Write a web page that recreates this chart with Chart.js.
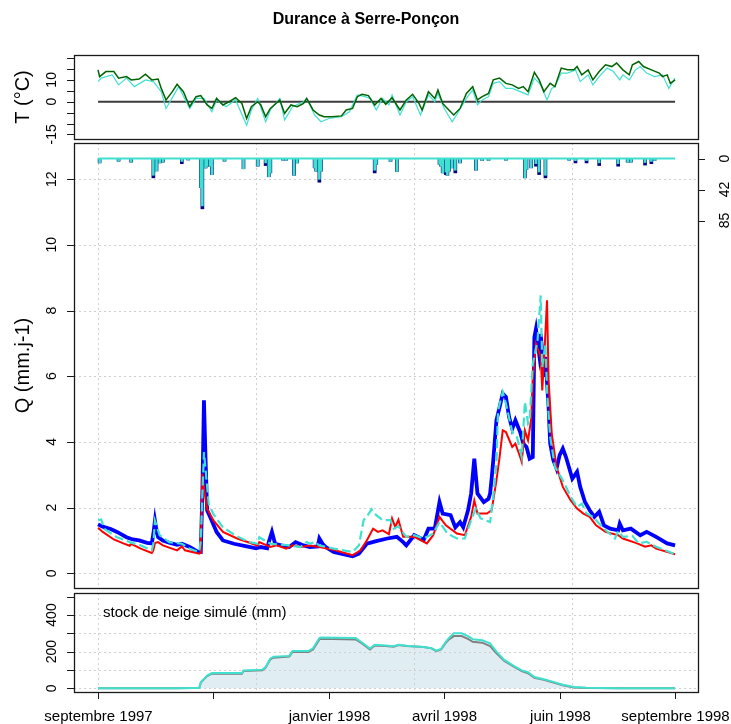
<!DOCTYPE html>
<html><head><meta charset="utf-8">
<script src="https://cdn.jsdelivr.net/npm/chart.js@4.4.1/dist/chart.umd.min.js"></script>
<style>
html,body{margin:0;padding:0;background:#fff;}
#wrap{position:relative;width:731px;height:724px;overflow:hidden;background:#fff;}
canvas{position:absolute;left:0;top:0;}
</style></head><body>
<div id="wrap">
<canvas id="cT" width="731" height="724"></canvas>
<canvas id="cQ" width="731" height="724"></canvas>
<canvas id="cS" width="731" height="724"></canvas>
</div>
<script>
// ---------- DATA (x = days since 1 septembre 1997) ----------
const chartTitle = "Durance à Serre-Ponçon";
const dateTickDays = [0, 73, 146, 219, 292, 365];
const dateTickLabels = ["septembre 1997", "", "janvier 1998", "avril 1998", "juin 1998", "septembre 1998"];
const gridDays = [0, 100, 200, 300];

const tempTicks = [-15, -10, -5, 0, 5, 10, 15, 20];
const tempLabels = [10, 0, -15];
const qTicks = [0, 2, 4, 6, 8, 10, 12];
const precipTicks = [0, 42.5, 85];
const precipLabels = ["0", "42", "85"];
const snowTicks = [0, 100, 200, 300, 400, 500];
const snowLabels = [0, 200, 400];
const snowGrid = [0, 100, 200, 300, 400];

// Temperature (°C)
const tempObserved = [[0,14.6],[1,11.5],[5,13.8],[10,13.8],[13,10.8],[18,11.5],[21,10],[26,10.4],[30,12.6],[34,10],[38,10.4],[40,6.1],[43,0.8],[47,4.6],[50,8],[54,4.6],[58,-2.3],[62,2.3],[65,2.8],[69,-1.5],[72,-3.1],[75,1.5],[79,-1.5],[83,0],[87,1.8],[91,-0.8],[94,-7.7],[97,-2.3],[101,0],[103,-1.5],[106,-6.9],[109,-3.1],[115,0.8],[118,-5.4],[122,-1.5],[126,-2.3],[130,-0.8],[132,1.5],[136,-3.8],[140,-6.1],[143,-6.9],[148,-6.9],[154,-6.5],[157,-3.8],[161,-3.1],[164,2.3],[167,3.4],[171,2.8],[175,-1.5],[179,1.5],[182,-1.2],[186,1.8],[191,-3.8],[195,0.8],[199,3.4],[203,-0.8],[205,-3.8],[209,4.6],[213,1.5],[215,5.4],[218,-0.8],[221,-3.1],[225,-6.1],[229,-3.1],[233,3.8],[237,6.9],[240,0.8],[243,2.3],[247,3.8],[250,10],[254,10.8],[258,8.4],[262,7.7],[266,6.1],[269,6.9],[272,4.6],[276,13.5],[279,10],[282,4.6],[286,8.4],[289,6.9],[293,15.4],[297,14.6],[301,14.6],[303,16.1],[306,12.3],[310,14.6],[313,10],[317,13.8],[321,16.9],[325,16.1],[328,17.7],[332,14.6],[336,12.3],[338,16.9],[342,18.4],[345,16.1],[350,14.6],[355,13.1],[357,11.5],[360,12.3],[362,8.4],[365,10]];
const tempModel = [[0,9.2],[2,10.8],[9,12.3],[13,7.7],[18,10.8],[23,6.9],[30,10],[35,9.2],[40,4.6],[43,-3.1],[48,3.1],[51,6.9],[58,-3.1],[62,1.5],[67,1.5],[72,-4.6],[75,0.8],[81,-2.3],[87,0.8],[94,-10.8],[97,-3.8],[101,1.5],[106,-9.2],[109,-3.8],[115,1.5],[118,-8.4],[123,-2.3],[130,0],[132,1.5],[137,-6.1],[141,-9.2],[146,-7.7],[154,-6.9],[159,-4.6],[164,3.1],[169,2.3],[172,1.5],[176,-3.8],[180,1.5],[184,-1.5],[186,3.1],[191,-6.1],[195,0],[199,2.3],[204,-6.1],[209,3.1],[213,0],[215,3.8],[219,-3.1],[224,-9.2],[228,-4.6],[233,1.5],[237,5.4],[240,-1.5],[243,0.8],[247,2.3],[250,8.4],[254,9.2],[258,6.1],[262,6.1],[267,4.6],[272,3.1],[276,10.8],[280,7.7],[284,0.8],[287,6.1],[289,6.9],[293,13.1],[297,13.1],[302,14.6],[305,9.2],[310,12.3],[313,7.7],[317,11.5],[322,15.4],[326,13.8],[330,10],[332,12.3],[336,10],[340,14.6],[343,16.1],[347,13.1],[352,11.5],[357,12.3],[361,6.1],[365,10.8]];
const tempZero = [[0,0],[365,0]];

// Discharge Q (mm/j)
const qObserved = [[0,1.49],[3,1.42],[8,1.35],[12,1.26],[18,1.1],[22,1.03],[26,1.0],[31,0.93],[34,0.91],[35,1.2],[36,1.6],[37,1.3],[38,1.1],[41,1.0],[45,0.93],[50,0.87],[53,0.9],[58,0.8],[63,0.66],[65,0.65],[66,2.5],[67,5.27],[68,3.5],[69,1.92],[71,1.71],[75,1.26],[79,1.0],[86,0.9],[94,0.82],[100,0.76],[103,0.8],[107,0.76],[108,0.95],[110,1.26],[112,0.9],[116,0.85],[121,0.8],[125,0.95],[130,0.85],[134,0.8],[139,0.82],[140,1.06],[142,0.9],[144,0.8],[149,0.65],[155,0.58],[161,0.52],[165,0.6],[170,0.9],[176,0.98],[183,1.06],[189,1.11],[193,0.95],[195,0.85],[200,1.16],[206,1.02],[209,1.36],[213,1.36],[216,2.17],[218,1.82],[223,1.77],[226,1.4],[229,1.56],[231,1.4],[234,1.91],[236,2.43],[238,3.49],[240,2.43],[244,2.17],[247,2.27],[248,2.43],[249,2.9],[250,3.44],[252,4.66],[254,5.06],[256,5.47],[258,5.37],[260,4.76],[262,4.4],[264,4.66],[267,4.3],[269,3.95],[271,3.85],[273,3.49],[275,3.54],[276,7.19],[277,7.44],[279,6.69],[280,7.29],[281,6.7],[282,5.98],[283,6.59],[285,5.06],[286,3.95],[288,3.44],[290,3.19],[292,3.6],[294,3.8],[296,3.54],[300,2.88],[303,3.09],[305,2.63],[308,2.17],[311,1.92],[314,1.72],[317,1.87],[320,1.46],[324,1.36],[329,1.31],[330,1.51],[332,1.31],[337,1.36],[343,1.16],[347,1.26],[353,1.11],[360,0.91],[365,0.85]];
const qSimRed = [[0,1.39],[3,1.26],[10,1.03],[16,0.91],[20,0.84],[21,0.9],[27,0.75],[34,0.62],[35,0.7],[36,0.92],[38,0.95],[41,0.85],[50,0.7],[53,0.82],[55,0.7],[64,0.6],[65,0.62],[66,3.03],[67,2.6],[69,1.97],[73,1.61],[79,1.26],[88,1.06],[96,0.93],[101,0.84],[102,0.95],[109,0.8],[113,0.85],[119,0.75],[123,0.85],[128,0.8],[134,0.85],[140,0.8],[149,0.72],[161,0.55],[166,0.7],[170,1.0],[174,1.36],[177,1.26],[180,1.31],[184,1.19],[186,1.67],[188,1.41],[190,1.63],[193,1.11],[200,1.11],[208,0.91],[212,1.16],[216,1.72],[220,1.46],[227,1.21],[232,1.16],[236,1.72],[238,2.22],[240,1.82],[246,1.82],[249,1.92],[252,2.83],[254,3.54],[256,4.35],[258,4.3],[262,3.85],[264,3.95],[267,3.54],[268,3.39],[270,4.35],[272,4.05],[274,4.71],[275,5.88],[277,6.99],[280,6.59],[281,5.57],[282,6.38],[284,8.31],[285,5.88],[287,4.25],[290,3.24],[294,2.63],[299,2.22],[303,1.97],[307,1.82],[311,1.72],[315,1.46],[321,1.26],[329,1.16],[332,1.06],[341,0.91],[346,0.81],[350,0.85],[353,0.75],[365,0.58]];
const qSimCyan = [[0,1.62],[2,1.64],[4,1.35],[12,1.1],[20,0.95],[27,0.85],[34,0.7],[35,0.9],[36,1.6],[39,1.16],[45,0.95],[53,0.9],[58,0.75],[64,0.65],[65,1.0],[67,3.69],[70,2.12],[73,1.8],[79,1.4],[88,1.12],[96,0.95],[101,0.9],[102,1.1],[109,0.9],[121,0.85],[128,0.8],[132,0.95],[134,0.9],[137,0.95],[140,0.85],[149,0.75],[161,0.65],[165,0.85],[168,1.62],[170,1.72],[173,1.95],[176,1.77],[180,1.62],[185,1.62],[187,1.36],[190,1.43],[195,1.11],[200,1.16],[206,1.06],[212,1.21],[216,1.56],[221,1.21],[227,1.06],[232,1.06],[236,1.62],[239,1.97],[242,1.67],[248,1.56],[250,2.33],[252,3.33],[253,4.96],[256,5.52],[258,5.17],[262,4.3],[265,4.15],[268,3.54],[270,5.22],[272,4.56],[273,4.66],[275,6.38],[278,7.09],[280,8.46],[281,6.28],[283,6.99],[284,5.57],[286,4.15],[289,3.24],[294,2.83],[299,2.33],[303,2.02],[306,2.12],[309,1.82],[313,1.72],[320,1.36],[327,1.06],[329,1.29],[332,1.11],[338,1.14],[342,0.91],[347,0.96],[353,0.81],[365,0.58]];

// Precipitation (mm/j): total and liquid part
const precipDays  = [1,13,21,35,37,39,41,53,57,65,66,68,69,71,72,80,92,101,106,108,109,117,119,124,126,137,138,140,141,175,176,185,189,216,217,218,220,221,222,224,226,229,239,243,247,258,270,271,274,277,279,283,298,302,309,317,329,335,337,346,350,352];
const precipTotal = [6,3.7,5,26.5,17,6,5,7,2,40,69,13,10.5,10.5,22,3.7,14,10.5,9.6,25,19.7,2.3,2.3,23,6,12.8,17.4,32.5,17.4,19.7,8,4,17.8,8,10.5,19.7,22,23,17.4,12.8,19.7,6,16,2.7,2.7,2.3,26.5,15,12.8,10.5,22,26.5,2.3,6,6,9.6,10.5,5,5,9,7,2.7];
const precipRain  = [6,3.7,5,23,17,6,5,4,2,40,65,13,10.5,10.5,22,3.7,14,10.5,6,25,19.7,2.3,2.3,23,6,12.8,17.4,28.5,17.4,16,8,4,17.8,8,10.5,19.7,18.5,23,17.4,12.8,16,6,16,2.7,2.7,2.3,26.5,15,12.8,7,18.5,23,2.3,3,3,6,7,5,5,5.5,4,2.7];
const precipBase = [[0,0],[365,0]];

// Simulated snow stock (mm)
const snowGrey = [[0,0],[50,0],[60,2],[64,2],[65,31],[69,67],[72,80],[91,80],[92,94],[104,99],[106,113],[109,158],[111,167],[121,173],[123,198],[133,198],[136,212],[140,267],[141,270],[163,267],[167,245],[172,212],[175,234],[182,231],[187,227],[190,236],[195,231],[206,225],[211,218],[214,203],[217,212],[220,249],[222,267],[225,285],[230,285],[234,270],[237,254],[243,249],[248,231],[252,191],[257,149],[263,118],[268,94],[272,82],[276,58],[282,46],[287,34],[294,17],[301,5],[309,2],[328,0],[365,0]];
const snowCyan = [[0,0],[50,0],[60,2],[64,2],[65,33],[69,70],[72,83],[91,83],[92,97],[104,102],[106,116],[109,163],[111,172],[121,177],[123,203],[133,203],[136,218],[140,274],[141,277],[163,274],[167,250],[172,217],[175,238],[182,234],[187,229],[190,238],[195,232],[206,226],[211,219],[214,205],[217,215],[220,254],[222,275],[225,300],[230,300],[234,285],[237,268],[243,262],[248,245],[252,200],[257,155],[263,122],[268,98],[272,88],[276,62],[282,50],[287,38],[294,20],[301,7],[309,3],[328,0],[365,0]];

// ---------- helpers ----------
const FONT = '"Liberation Sans", Arial, Helvetica, sans-serif';
const pts = a => a.map(p => ({x: p[0], y: p[1]}));
const X_MIN = -15.2, X_MAX = 379.5;
const BOX_L = 74, BOX_R = 698;

function rotText(ctx, txt, x, y, font) {
  ctx.save(); ctx.font = font; ctx.translate(x, y); ctx.rotate(-Math.PI/2);
  ctx.textAlign = 'center'; ctx.textBaseline = 'middle'; ctx.fillStyle = '#000';
  ctx.fillText(txt, 0, 0); ctx.restore();
}
function hline(ctx, x1, x2, y){ ctx.beginPath(); ctx.moveTo(x1, y); ctx.lineTo(x2, y); ctx.stroke(); }
function vline(ctx, x, y1, y2){ ctx.beginPath(); ctx.moveTo(x, y1); ctx.lineTo(x, y2); ctx.stroke(); }

function panelPlugin(opt) {
  return {
    id: 'rpanel',
    beforeDatasetsDraw(chart) {
      const {ctx, chartArea: a, scales} = chart;
      ctx.save();
      ctx.strokeStyle = '#cfcfcf'; ctx.lineWidth = 1; ctx.setLineDash([2, 3]);
      (opt.gridX || []).forEach(d => { const x = Math.round(scales.x.getPixelForValue(d)) + 0.5; vline(ctx, x, a.top, a.bottom); });
      (opt.gridY || []).forEach(v => { const y = Math.round(scales.y.getPixelForValue(v)) + 0.5; hline(ctx, a.left, a.right, y); });
      ctx.restore();
    },
    afterDatasetsDraw(chart) {
      const {ctx, chartArea: a, scales} = chart;
      ctx.save();
      ctx.setLineDash([]);
      ctx.strokeStyle = '#1a1a1a'; ctx.lineWidth = 1.3;
      ctx.strokeRect(Math.round(a.left) + 0.5, Math.round(a.top) + 0.5, Math.round(a.right - a.left), Math.round(a.bottom - a.top));
      ctx.lineWidth = 1;
      const yfont = '14px ' + FONT;
      opt.yTicks.forEach(v => { const y = Math.round(scales.y.getPixelForValue(v)) + 0.5; hline(ctx, a.left - 7, a.left, y); });
      opt.yLabels.forEach(v => rotText(ctx, String(v), 52, scales.y.getPixelForValue(v), yfont));
      if (opt.yTitle) rotText(ctx, opt.yTitle, 23, (a.top + a.bottom) / 2, '20px ' + FONT);
      if (opt.right) {
        const s = scales.yP;
        opt.right.ticks.forEach((v, i) => {
          const y = Math.round(s.getPixelForValue(v)) + 0.5; hline(ctx, a.right, a.right + 7, y);
          rotText(ctx, opt.right.labels[i], 725, s.getPixelForValue(v), yfont);
        });
      }
      if (opt.xAxis) {
        ctx.fillStyle = '#000'; ctx.font = '15px ' + FONT; ctx.textAlign = 'center'; ctx.textBaseline = 'middle';
        dateTickDays.forEach((d, i) => {
          const x = Math.round(scales.x.getPixelForValue(d)) + 0.5; vline(ctx, x, a.bottom, a.bottom + 7);
          if (dateTickLabels[i]) ctx.fillText(dateTickLabels[i], x, a.bottom + 25);
        });
      }
      if (opt.extra) opt.extra(ctx, a);
      ctx.restore();
    }
  };
}

function baseOptions(padTop, padBottom, yMin, yMax, extraScales) {
  return {
    responsive: false, animation: false, devicePixelRatio: 1, events: [],
    layout: {padding: {left: BOX_L, right: 731 - BOX_R, top: padTop, bottom: 724 - padBottom}},
    plugins: {legend: {display: false}, tooltip: {enabled: false}, filler: {drawTime: 'beforeDatasetsDraw'}},
    elements: {point: {radius: 0}, line: {tension: 0}},
    scales: Object.assign({
      x: {type: 'linear', min: X_MIN, max: X_MAX, offset: false, grid: {offset: false}, display: false},
      y: {type: 'linear', min: yMin, max: yMax, display: false}
    }, extraScales || {})
  };
}

// ---------- Temperature panel ----------
new Chart(document.getElementById('cT'), {
  type: 'line',
  data: {datasets: [
    {data: pts(tempObserved), borderColor: '#006400', borderWidth: 1.5, order: 0},
    {data: pts(tempModel), borderColor: '#40E0D0', borderWidth: 1.2, order: 1},
    {data: pts(tempZero), borderColor: '#3c3c3c', borderWidth: 2, order: 2}
  ]},
  options: baseOptions(55, 139, -17.1, 21.4),
  plugins: [panelPlugin({
    yTicks: tempTicks, yLabels: tempLabels, yTitle: 'T (°C)',
    extra: (ctx) => {
      ctx.fillStyle = '#000'; ctx.font = 'bold 16px ' + FONT; ctx.textAlign = 'center'; ctx.textBaseline = 'middle';
      ctx.fillText(chartTitle, 366, 20);
    }
  })]
});

// ---------- Discharge + precipitation panel ----------
new Chart(document.getElementById('cQ'), {
  type: 'line',
  data: {datasets: [
    {data: pts(qSimCyan), borderColor: '#40E0D0', borderWidth: 2.2, borderDash: [9, 4], order: 0},
    {data: pts(qSimRed), borderColor: '#FF0000', borderWidth: 2, order: 1},
    {data: pts(qObserved), borderColor: '#0000FF', borderWidth: 3.8, order: 2},
    {data: pts(precipBase), yAxisID: 'yP', borderColor: '#40E0D0', borderWidth: 2, order: 3},
    {type: 'bar', data: precipDays.map((d, i) => ({x: d, y: precipRain[i]})), yAxisID: 'yP',
     backgroundColor: '#40E0D0', barThickness: 2, grouped: false, order: 4},
    {type: 'bar', data: precipDays.map((d, i) => ({x: d, y: precipTotal[i]})), yAxisID: 'yP',
     backgroundColor: '#000080', barThickness: 3, grouped: false, order: 5}
  ]},
  options: baseOptions(143, 588, -0.447, 13.1, {
    yP: {type: 'linear', min: -21.3, max: 589, reverse: true, display: false}
  }),
  plugins: [panelPlugin({
    gridX: gridDays, gridY: qTicks, yTicks: qTicks, yLabels: qTicks, yTitle: 'Q (mm.j-1)',
    right: {ticks: precipTicks, labels: precipLabels}
  })]
});

// ---------- Snow panel ----------
new Chart(document.getElementById('cS'), {
  type: 'line',
  data: {datasets: [
    {data: pts(snowCyan), borderColor: '#40E0D0', borderWidth: 2, order: 0},
    {data: pts(snowGrey), borderColor: '#808080', borderWidth: 2, order: 1,
     fill: 'origin', backgroundColor: 'rgba(173,208,222,0.38)'}
  ]},
  options: baseOptions(593, 692, -20, 520),
  plugins: [panelPlugin({
    gridX: gridDays, gridY: snowGrid, yTicks: snowTicks, yLabels: snowLabels, xAxis: true,
    extra: (ctx) => {
      ctx.fillStyle = '#000'; ctx.font = '15px ' + FONT; ctx.textAlign = 'left'; ctx.textBaseline = 'middle';
      ctx.fillText('stock de neige simulé (mm)', 103, 613);
    }
  })]
});
</script>
</body></html>
